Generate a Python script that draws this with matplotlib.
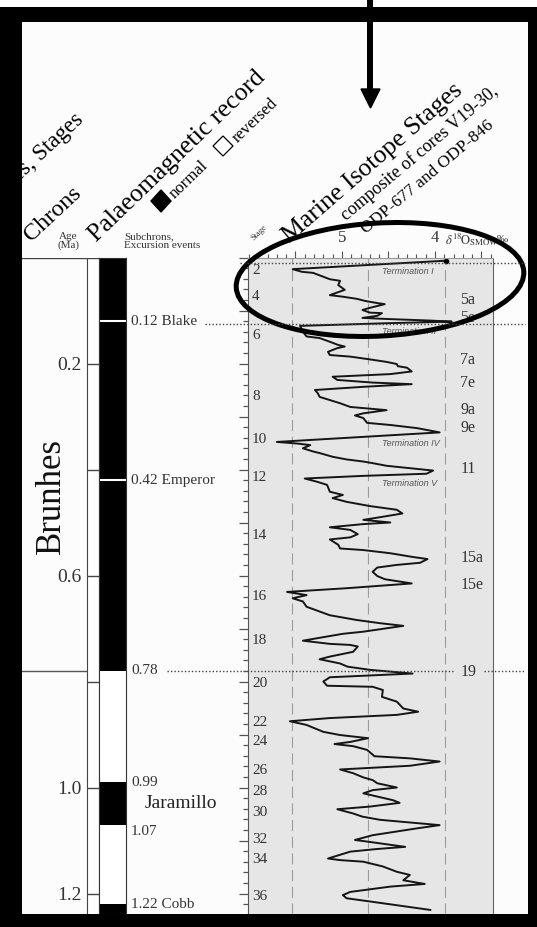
import numpy as np
import matplotlib.pyplot as plt
from matplotlib import transforms
from matplotlib.patches import Rectangle, Ellipse, Polygon
from matplotlib.ticker import MultipleLocator

plt.rcParams['font.family'] = ['Liberation Serif', 'DejaVu Serif']
plt.rcParams['mathtext.fontset'] = 'stix'

# benthic d18O composite (V19-30, ODP-677, ODP-846), age in Ma
age = [0.006, 0.022, 0.027, 0.029, 0.041, 0.044, 0.052, 0.061, 0.066, 0.071,
       0.074, 0.078, 0.082, 0.086, 0.088, 0.095, 0.099, 0.104, 0.105, 0.110,
       0.114, 0.116, 0.119, 0.121, 0.124, 0.129, 0.140, 0.149, 0.152, 0.159,
       0.165, 0.168, 0.171, 0.178, 0.184, 0.187, 0.193, 0.197, 0.201, 0.205,
       0.208, 0.215, 0.220, 0.225, 0.231, 0.236, 0.239, 0.244, 0.250, 0.256,
       0.263, 0.269, 0.275, 0.282, 0.288, 0.294, 0.298, 0.303, 0.312, 0.316,
       0.322, 0.330, 0.348, 0.349, 0.351, 0.354, 0.360, 0.366, 0.369, 0.376,
       0.381, 0.385, 0.388, 0.393, 0.398, 0.402, 0.408, 0.412, 0.417, 0.423,
       0.429, 0.442, 0.448, 0.454, 0.461, 0.469, 0.476, 0.483, 0.490, 0.495,
       0.500, 0.503, 0.509, 0.514, 0.522, 0.528, 0.532, 0.542, 0.549, 0.552,
       0.558, 0.565, 0.569, 0.576, 0.580, 0.585, 0.593, 0.601, 0.607, 0.615,
       0.624, 0.631, 0.637, 0.643, 0.649, 0.659, 0.668, 0.675, 0.684, 0.690,
       0.695, 0.706, 0.710, 0.723, 0.729, 0.731, 0.734, 0.744, 0.753, 0.758,
       0.766, 0.772, 0.778, 0.785, 0.792, 0.800, 0.808, 0.810, 0.816, 0.829,
       0.838, 0.851, 0.857, 0.863, 0.869, 0.875, 0.882, 0.895, 0.901, 0.907,
       0.914, 0.918, 0.922, 0.929, 0.941, 0.945, 0.951, 0.959, 0.966, 0.973,
       0.981, 0.986, 0.992, 1.000, 1.005, 1.011, 1.017, 1.024, 1.029, 1.036,
       1.041, 1.049, 1.055, 1.061, 1.071, 1.077, 1.090, 1.099, 1.102, 1.112,
       1.116, 1.121, 1.134, 1.137, 1.140, 1.149, 1.159, 1.165, 1.175, 1.182,
       1.187, 1.197, 1.203, 1.209, 1.215, 1.231]
d18o = [3.88, 5.53, 5.43, 5.31, 5.13, 5.02, 5.04, 4.97, 5.05, 5.13,
        4.99, 4.84, 4.75, 4.62, 4.54, 4.70, 4.78, 4.70, 4.57, 4.62,
        4.78, 4.52, 4.05, 3.82, 4.52, 5.45, 5.42, 5.38, 5.24, 5.13,
        5.04, 4.97, 5.05, 5.15, 5.13, 4.91, 4.67, 4.52, 4.41, 4.40,
        4.30, 4.25, 4.48, 5.10, 5.05, 4.67, 4.25, 4.77, 5.29, 5.26,
        5.24, 5.13, 5.02, 4.91, 4.52, 4.77, 4.86, 4.77, 4.73, 4.48,
        4.19, 3.95, 5.70, 5.63, 5.48, 5.34, 5.42, 5.31, 5.24, 5.10,
        4.95, 4.77, 4.67, 4.52, 4.24, 4.02, 4.09, 4.77, 5.40, 5.27,
        5.16, 5.13, 4.99, 5.10, 4.95, 4.70, 4.41, 4.35, 4.59, 4.77,
        4.48, 4.77, 5.13, 4.91, 4.83, 4.91, 5.13, 5.04, 5.02, 4.77,
        4.48, 4.24, 4.08, 4.16, 4.41, 4.62, 4.67, 4.62, 4.54, 4.25,
        4.95, 5.59, 5.38, 5.53, 5.42, 5.38, 5.24, 5.13, 4.84, 4.59,
        4.34, 4.77, 4.99, 5.42, 5.13, 4.91, 4.83, 4.88, 5.13, 5.24,
        5.02, 4.94, 4.70, 4.24, 5.13, 5.20, 5.16, 4.67, 4.56, 4.57,
        4.41, 4.34, 4.18, 4.41, 5.13, 5.56, 5.38, 5.20, 5.02, 4.72,
        4.91, 5.08, 4.88, 4.73, 4.65, 4.27, 3.95, 4.27, 5.02, 4.88,
        4.77, 4.67, 4.62, 4.41, 4.67, 4.77, 4.62, 4.45, 4.38, 4.70,
        5.05, 4.88, 4.78, 4.59, 3.95, 4.19, 4.67, 4.86, 4.73, 4.32,
        4.62, 4.91, 5.15, 5.02, 4.77, 4.56, 4.41, 4.27, 4.34, 4.11,
        4.48, 4.91, 4.99, 4.95, 4.70, 4.05]

stage_names = ['2', '4', '6', '8', '10', '12', '14', '16', '18', '20', '22',
               '24', '26', '28', '30', '32', '34', '36']
stage_ages = [0.025, 0.073, 0.148, 0.262, 0.344, 0.416, 0.524, 0.640, 0.722,
              0.803, 0.878, 0.914, 0.967, 1.008, 1.048, 1.099, 1.135, 1.205]
substage_names = ['5a', '5e', '7a', '7e', '9a', '9e', '11', '15a', '15e', '19']
substage_ages = [0.080, 0.115, 0.193, 0.237, 0.288, 0.322, 0.399, 0.567, 0.617, 0.783]
termination_names = ['Termination I', 'Termination II', 'Termination IV', 'Termination V']
termination_ages = [0.027, 0.140, 0.350, 0.426]

normal_start = [0.0, 0.99, 1.22]
normal_end = [0.78, 1.07, 1.30]
excursions = [0.12, 0.42]
event_labels = ['0.12 Blake', '0.42 Emperor', '0.78', '0.99', '1.07', '1.22 Cobb']
event_ages = [0.12, 0.42, 0.78, 0.99, 1.07, 1.22]
age_ticks = [0.2, 0.4, 0.6, 0.8, 1.0, 1.2]
age_ticklabels = ['0.2', '', '0.6', '', '1.0', '1.2']
chron_boundary = 0.78

W, H = 537, 927
TOP, BOT = 257.5, 914
AGE_MAX = (BOT - TOP) / 530.0


def rect(x0, y0, x1, y1):
    return [x0 / W, 1 - y1 / H, (x1 - x0) / W, (y1 - y0) / H]


fig = plt.figure(figsize=(W / 100, H / 100), dpi=100)
fig.patch.set_facecolor('white')

bg = fig.add_axes([0, 0, 1, 1])
bg.set_xlim(0, W)
bg.set_ylim(H, 0)
bg.axis('off')
bg.add_patch(Rectangle((22, 22), 506, 892, fc='#fcfcfc', ec='none'))

# column headers
bg.text(68, 241, 'Age\n(Ma)', ha='center', va='center', fontsize=8, linespacing=0.9, color='#333')
bg.text(124, 241, 'Subchrons,\nExcursion events', ha='left', va='center', fontsize=8,
        linespacing=0.95, color='#333')
bg.text(84, 121, 'Series, Stages', rotation=43, rotation_mode='anchor', ha='right',
        va='baseline', fontsize=16.5)
bg.text(31, 242, 'Chrons', rotation=43, rotation_mode='anchor', ha='left', va='baseline', fontsize=17.5)
bg.text(97, 242, 'Palaeomagnetic record', rotation=44, rotation_mode='anchor', ha='left',
        va='baseline', fontsize=18.5)
bg.add_patch(Polygon([(161, 190), (171, 201), (161, 212), (151, 201)], closed=True, fc='black', ec='black'))
bg.text(175, 199, 'normal', rotation=44, rotation_mode='anchor', ha='left', va='baseline', fontsize=12)
bg.add_patch(Polygon([(223, 136), (233, 146), (223, 156), (213, 146)], closed=True, fc='white',
                     ec='black', lw=0.9))
bg.text(238, 143, 'reversed', rotation=44, rotation_mode='anchor', ha='left', va='baseline', fontsize=12)
bg.text(290, 243, 'Marine Isotope Stages', rotation=41, rotation_mode='anchor', ha='left',
        va='baseline', fontsize=18.5)
bg.text(346, 221, 'composite of cores V19-30,', rotation=40, rotation_mode='anchor', ha='left',
        va='baseline', fontsize=13)
bg.text(366, 234, 'ODP-677 and ODP-846', rotation=40, rotation_mode='anchor', ha='left',
        va='baseline', fontsize=12.5)
bg.text(254, 241, 'Stage', rotation=45, rotation_mode='anchor', ha='left', va='baseline',
        fontsize=6, color='#333')

# chrons column
ch = fig.add_axes(rect(22, TOP, 87, BOT))
ch.set_xlim(0, 1)
ch.set_ylim(AGE_MAX, 0)
ch.axis('off')
ch.axhline(0, color='#444', lw=1)
ch.axhline(chron_boundary, color='#555', lw=1)
ch.text(0.45, 0.45, 'Brunhes', rotation=90, ha='center', va='center', fontsize=25, color='#111')

# age scale
aa = fig.add_axes(rect(87, TOP, 99, BOT))
aa.set_xlim(0, 1)
aa.set_ylim(AGE_MAX, 0)
aa.set_facecolor('white')
aa.spines['top'].set_visible(False)
aa.spines['bottom'].set_visible(False)
for s in ['left', 'right']:
    aa.spines[s].set_color('#444')
aa.set_xticks([])
aa.set_yticks(age_ticks)
aa.set_yticklabels(age_ticklabels)
aa.tick_params(axis='y', direction='in', length=12 * 0.72, width=1, color='#444',
               labelsize=14, pad=4, labelcolor='#333')
aa.axhline(0, color='#444', lw=1)

# palaeomagnetic column
pm = fig.add_axes(rect(99, TOP, 126, BOT))
pm.set_xlim(0, 1)
pm.set_ylim(AGE_MAX, 0)
pm.set_facecolor('white')
pm.set_xticks([])
pm.set_yticks([])
for a, b in zip(normal_start, normal_end):
    pm.axhspan(a, b, color='black', lw=0)
for e in excursions:
    pm.axhline(e, color='white', lw=1.5)
for s in pm.spines.values():
    s.set_color('#333')

ev_tr = transforms.blended_transform_factory(bg.transData, pm.transData)
ev_va = ['center', 'center', 'center', 'center', 'top', 'center']
for lab, a, v in zip(event_labels, event_ages, ev_va):
    bg.text(131, a, lab, transform=ev_tr, ha='left', va=v, fontsize=11, color='#333')
bg.text(145, np.mean(event_ages[3:5]), 'Jaramillo', transform=ev_tr, ha='left', va='center',
        fontsize=14, color='#222')

# isotope record
ax = fig.add_axes(rect(248, TOP, 493, BOT))
ax.set_facecolor('#e6e6e6')
ax.set_xlim(6.01, 3.376)
ax.set_ylim(AGE_MAX, 0)
for g in [5.54, 4.72, 3.89]:
    ax.axvline(g, color='#9c9c9c', lw=0.8, dashes=(10, 5))
ax.plot(d18o, age, color='#151515', lw=1.4, solid_joinstyle='round')
ax.plot(d18o[0], age[0], 'o', color='black', ms=3)

ax.xaxis.tick_top()
ax.set_xticks([5.5, 5.0, 4.5, 4.0, 3.5])
ax.set_xticklabels(['', '5', '', '4', ''])
ax.xaxis.set_minor_locator(MultipleLocator(0.1))
ax.tick_params(axis='x', which='major', direction='out', length=5, width=0.8, color='#555',
               labelsize=12, pad=3, labelcolor='#333')
ax.tick_params(axis='x', which='minor', direction='out', length=3, width=0.8, color='#555')
ax.set_yticks(np.arange(0, 1.24, 0.1))
ax.yaxis.set_minor_locator(MultipleLocator(0.02))
ax.set_yticklabels([])
ax.tick_params(axis='y', which='major', direction='out', length=6.5, width=0.9, color='#555')
ax.tick_params(axis='y', which='minor', direction='out', length=3.5, width=0.9, color='#555')
ax.spines['bottom'].set_visible(False)
ax.spines['left'].set_color('#555')
ax.spines['right'].set_color('#666')
ax.spines['top'].set_color('#999')

ax_tr = transforms.blended_transform_factory(ax.transAxes, ax.transData)
for s, a in zip(stage_names, stage_ages):
    ax.text(0.016, a, s, transform=ax_tr, ha='left', va='center', fontsize=11, color='#333')
for s, a in zip(substage_names, substage_ages):
    ax.text(0.866, a, s, transform=ax_tr, ha='left', va='center', fontsize=11.5, color='#333')
for s, a in zip(termination_names, termination_ages):
    ax.text(0.545, a, s, transform=ax_tr, ha='left', va='center', fontsize=6.5, color='#555',
            style='italic', family=['Liberation Sans', 'DejaVu Sans'])
bg.text(445, 240, r'$\delta\,^{18}\!\mathrm{O}_{\mathrm{SMOW}}$', ha='left', va='center', fontsize=9,
        color='#333')
bg.text(497, 239, '‰', ha='left', va='center', fontsize=8, color='#333')

# overlay: dotted markers, frame, arrow, ellipse
ov = fig.add_axes([0, 0, 1, 1])
ov.set_xlim(0, W)
ov.set_ylim(H, 0)
ov.axis('off')
ov_tr = transforms.blended_transform_factory(ov.transData, ax.transData)
dot = dict(color='#444', lw=1, linestyle=(0, (1, 1.5)), transform=ov_tr)
ov.plot([240, 525], [0.01, 0.01], **dot)
ov.plot([205, 525], [0.125, 0.125], **dot)
ov.plot([167, 455], [chron_boundary, chron_boundary], **dot)
ov.plot([484, 525], [chron_boundary, chron_boundary], **dot)

for r in [(0, 7, W, 15), (0, 7, 22, H), (528, 7, 9, H), (0, BOT, W, H - BOT)]:
    ov.add_patch(Rectangle(r[:2], r[2], r[3], fc='black', ec='none'))
ov.add_patch(Rectangle((367, 0), 6, 92, fc='black', ec='none'))
ov.add_patch(Polygon([(361, 89), (380, 89), (370.5, 108)], closed=True, fc='black', ec='black'))
ov.add_patch(Ellipse((380, 279.5), 288, 113, angle=-3.2, fill=False, lw=3.6, ec='black'))

fig.savefig('out.png', dpi=100, facecolor=fig.get_facecolor())
